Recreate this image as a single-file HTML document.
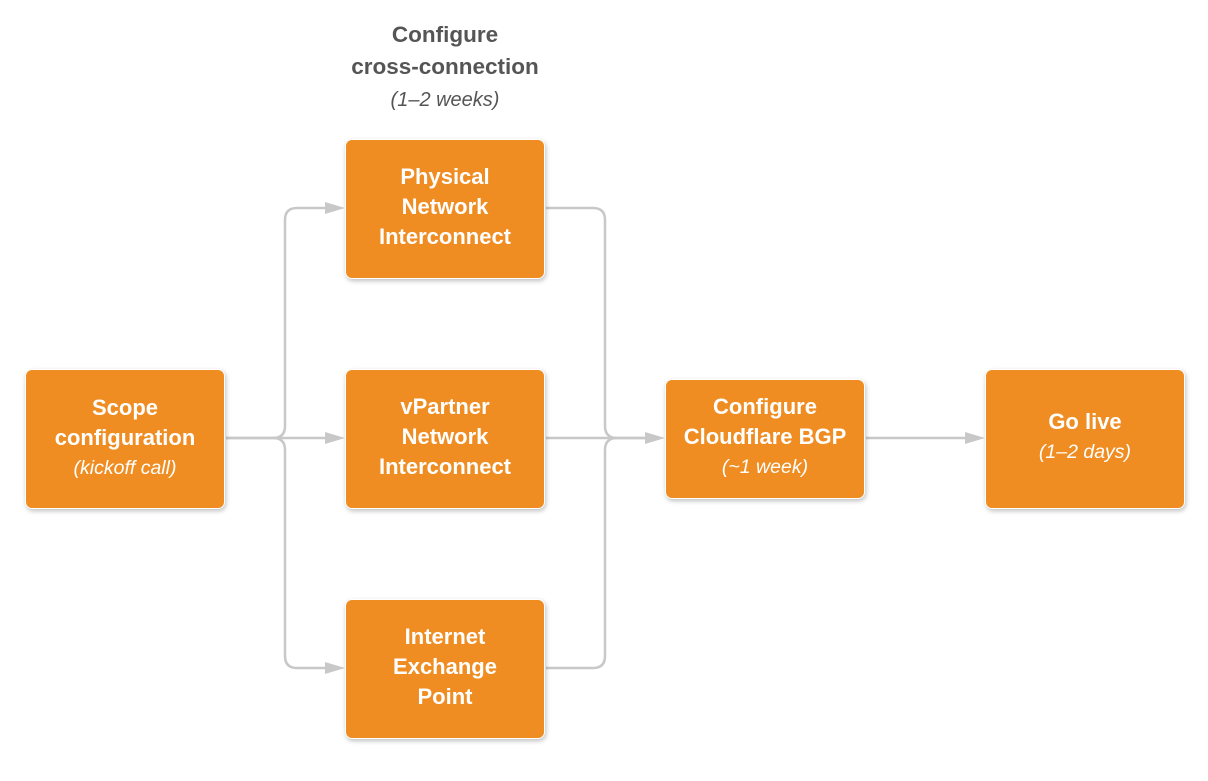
<!DOCTYPE html>
<html><head><meta charset="utf-8"><style>
body{margin:0;width:1208px;height:781px;background:#fff;position:relative;font-family:"Liberation Sans",Arial,sans-serif;overflow:hidden}
.b{position:absolute;width:200px;background:#ef8d22;border-radius:7px;box-shadow:1px 2px 5px rgba(0,0,0,.25);color:#fff;font-weight:bold;font-size:22px;line-height:30px;text-align:center;display:flex;flex-direction:column;justify-content:center;box-sizing:border-box;border:1px solid #fff}
.b i{font-weight:normal;font-size:19.5px;line-height:30px}
.h{position:absolute;left:295px;width:300px;text-align:center;color:#555;font-weight:bold;font-size:22.5px;line-height:32px;top:19px}
.h i{font-weight:normal;font-size:20px;color:#555}
svg{position:absolute;left:0;top:0}
</style></head><body>
<svg width="1208" height="781">
<g fill="none" stroke="#c8c8c8" stroke-width="2.5">
<path d="M226 438 H273 Q285 438 285 426 V220 Q285 208 297 208 H328"/>
<path d="M226 438 H273 Q285 438 285 450 V656 Q285 668 297 668 H328"/>
<path d="M273 438 H328"/>
<path d="M546 208 H593 Q605 208 605 220 V426 Q605 438 617 438 H648"/>
<path d="M546 668 H593 Q605 668 605 656 V450 Q605 438 617 438"/>
<path d="M546 438 H648"/>
<path d="M866 438 H968"/>
</g>
<g fill="#c8c8c8">
<path d="M345 208 l-20 -6 v12z"/>
<path d="M345 438 l-20 -6 v12z"/>
<path d="M345 668 l-20 -6 v12z"/>
<path d="M665 438 l-20 -6 v12z"/>
<path d="M985 438 l-20 -6 v12z"/>
</g>
</svg>
<div class="h">Configure<br>cross-connection<br><i>(1–2 weeks)</i></div>
<div class="b" style="left:25px;top:369px;height:140px;padding-bottom:3px">Scope<br>configuration<i>(kickoff call)</i></div>
<div class="b" style="left:345px;top:139px;height:140px;padding-bottom:4px">Physical<br>Network<br>Interconnect</div>
<div class="b" style="left:345px;top:369px;height:140px;padding-bottom:4px">vPartner<br>Network<br>Interconnect</div>
<div class="b" style="left:345px;top:599px;height:140px;padding-bottom:4px">Internet<br>Exchange<br>Point</div>
<div class="b" style="left:665px;top:379px;height:120px;padding-bottom:4px">Configure<br>Cloudflare BGP<i>(~1 week)</i></div>
<div class="b" style="left:985px;top:369px;height:140px;padding-bottom:4px">Go live<i>(1–2 days)</i></div>
</body></html>
